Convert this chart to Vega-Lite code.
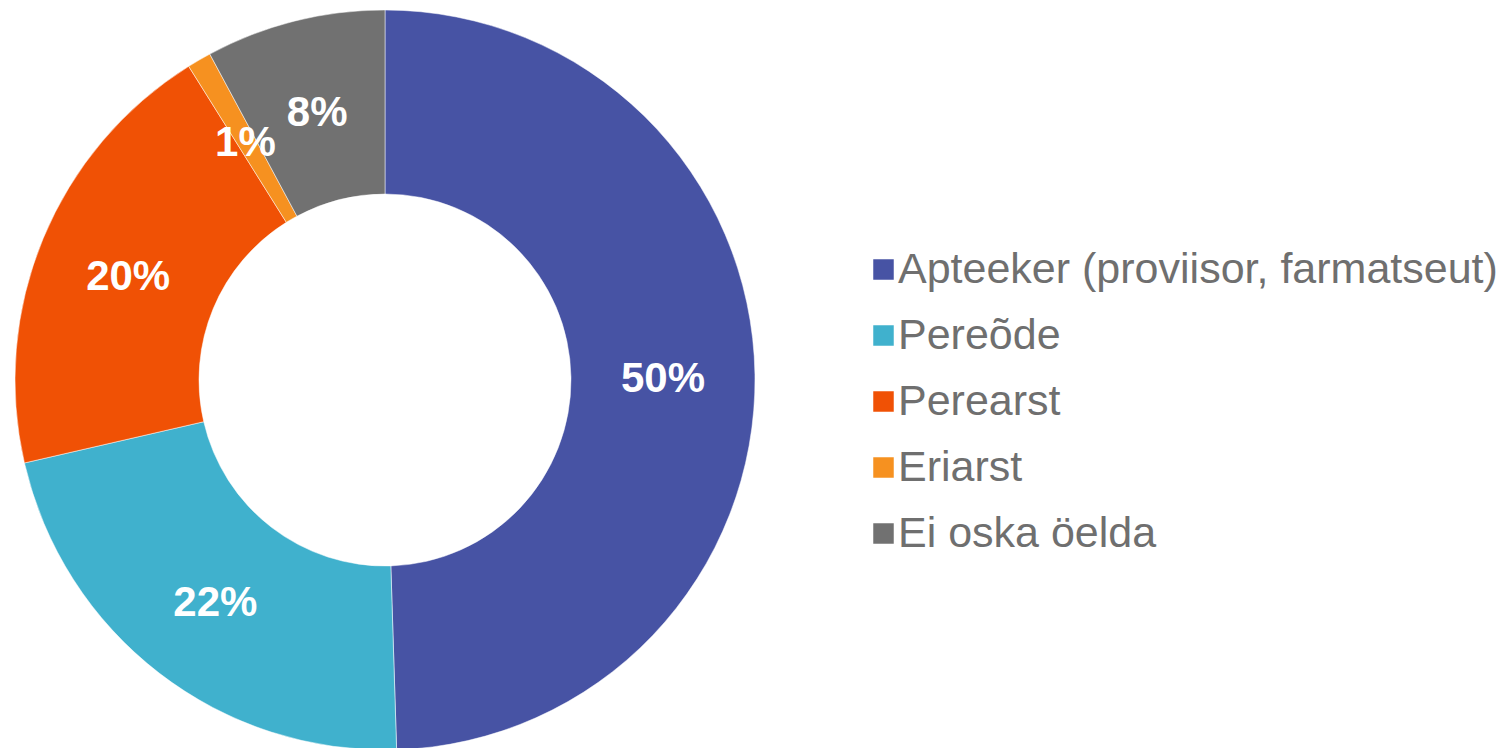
{
  "$schema": "https://vega.github.io/schema/vega-lite/v6.json",
  "width": 770,
  "height": 760,
  "padding": 0,
  "background": "white",
  "config": {"view": {"stroke": null}},
  "data": {
    "values": [
      {"kategooria": "Apteeker (proviisor, farmatseut)", "osakaal": 49.5, "silt": "50%", "jrk": 1},
      {"kategooria": "Pereõde", "osakaal": 21.9, "silt": "22%", "jrk": 2},
      {"kategooria": "Perearst", "osakaal": 19.7, "silt": "20%", "jrk": 3},
      {"kategooria": "Eriarst", "osakaal": 1.05, "silt": "1%", "jrk": 4},
      {"kategooria": "Ei oska öelda", "osakaal": 7.85, "silt": "8%", "jrk": 5}
    ]
  },
  "encoding": {
    "theta": {"field": "osakaal", "type": "quantitative", "stack": true},
    "order": {"field": "jrk", "type": "quantitative"},
    "color": {
      "field": "kategooria",
      "type": "nominal",
      "sort": ["Apteeker (proviisor, farmatseut)", "Pereõde", "Perearst", "Eriarst", "Ei oska öelda"],
      "scale": {
        "domain": ["Apteeker (proviisor, farmatseut)", "Pereõde", "Perearst", "Eriarst", "Ei oska öelda"],
        "range": ["#4753A4", "#40B1CD", "#F05105", "#F69120", "#717171"]
      },
      "legend": {
        "title": null,
        "orient": "none",
        "legendX": 862,
        "legendY": 248,
        "padding": 0,
        "symbolType": "square",
        "symbolSize": 420,
        "symbolStrokeWidth": 0,
        "labelFont": "Liberation Sans",
        "labelFontSize": 43,
        "labelColor": "#6F6F6F",
        "labelOffset": -7,
        "rowPadding": 22,
        "labelLimit": 700
      }
    }
  },
  "layer": [
    {
      "mark": {"type": "arc", "outerRadius": 370, "innerRadius": 186, "stroke": "white", "strokeWidth": 0.5}
    },
    {
      "mark": {"type": "text", "radius": 278, "fontSize": 42, "fontWeight": "bold", "font": "Liberation Sans", "color": "white", "baseline": "middle", "align": "center", "dy": 3},
      "encoding": {
        "text": {"field": "silt", "type": "nominal"},
        "color": {"value": "white"}
      }
    }
  ]
}
